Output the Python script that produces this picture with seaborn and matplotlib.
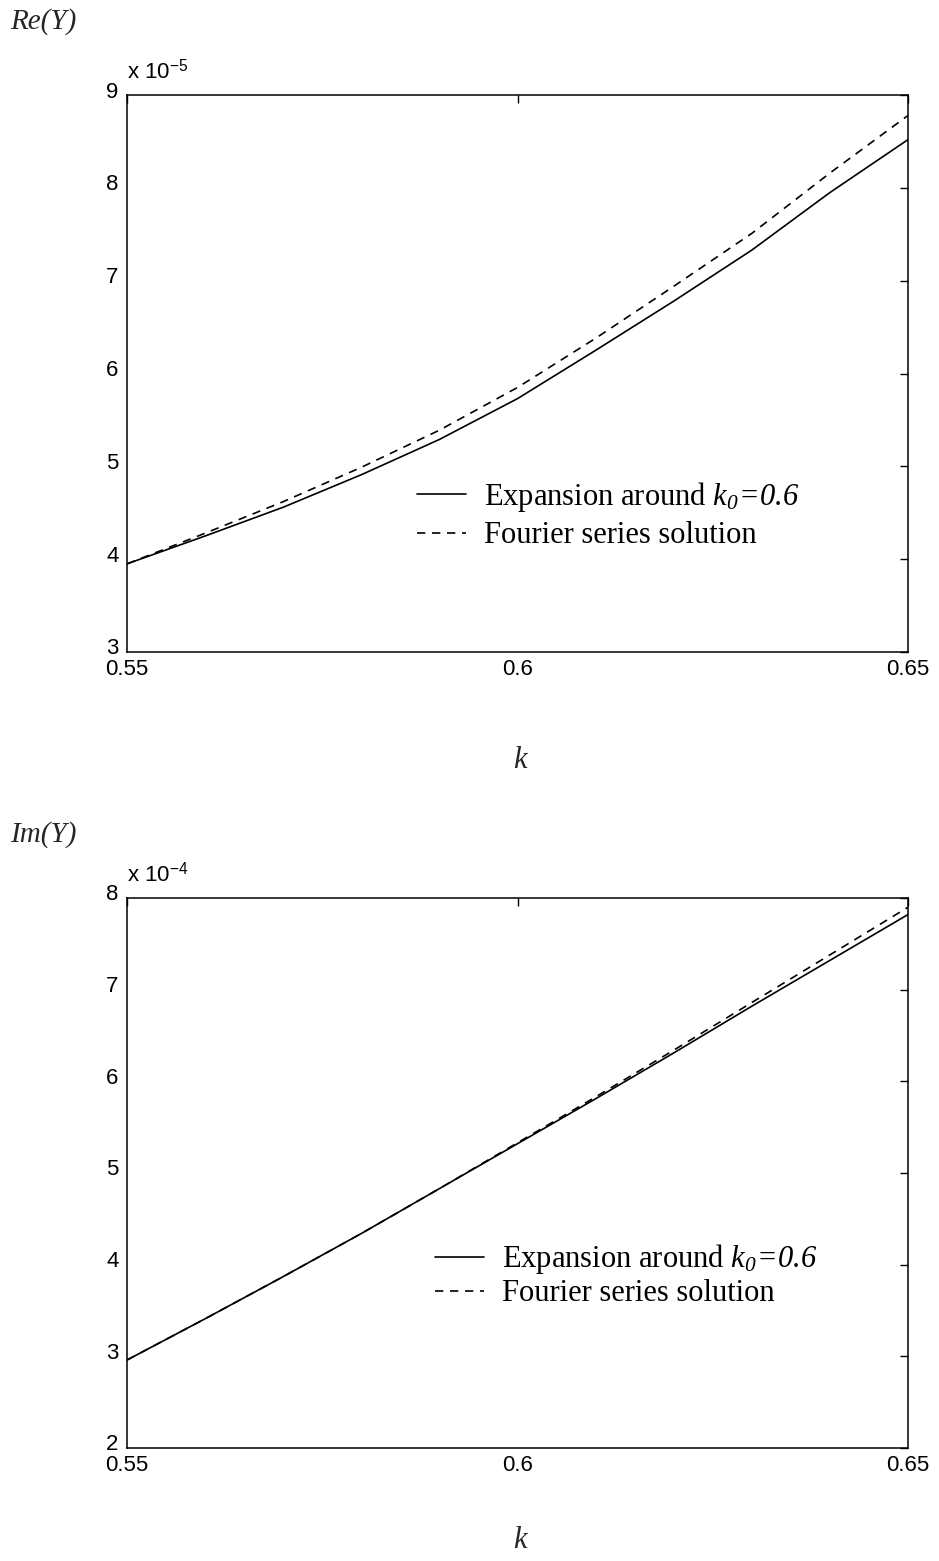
import numpy as np
import pandas as pd
import seaborn as sns
import matplotlib
matplotlib.use("Agg")
import matplotlib.pyplot as plt
from matplotlib.ticker import FuncFormatter
from matplotlib.transforms import ScaledTranslation

# wavenumber samples
k = [0.55, 0.56, 0.57, 0.58, 0.59, 0.60, 0.61, 0.62, 0.63, 0.64, 0.65]

# Re(Y), in units of 1e-5
re_expansion = [3.95, 4.25, 4.56, 4.91, 5.29, 5.73, 6.25, 6.78, 7.33, 7.95, 8.52]
re_fourier = [3.95, 4.28, 4.62, 4.99, 5.39, 5.85, 6.38, 6.94, 7.51, 8.16, 8.78]

# Im(Y), in units of 1e-4
im_expansion = [2.96, 3.41, 3.87, 4.34, 4.83, 5.32, 5.81, 6.31, 6.82, 7.32, 7.82]
im_fourier = [2.96, 3.41, 3.87, 4.34, 4.83, 5.33, 5.83, 6.34, 6.86, 7.38, 7.90]

x_ticks = [0.55, 0.6, 0.65]
x_tick_labels = ["0.55", "0.6", "0.65"]
re_ticks = [3, 4, 5, 6, 7, 8, 9]
im_ticks = [2, 3, 4, 5, 6, 7, 8]

# \mathbf is mapped to the italic serif face below, so that digits and "="
# in "k0=0.6" come out slanted as well
label_expansion = r"Expansion around $k_{\mathbf{0}}\!\mathbf{=}\!\mathbf{0.6}$"
label_fourier = "Fourier series solution"

sns.set_theme(style="white")
plt.rcParams.update({
    "font.family": ["Liberation Sans", "DejaVu Sans"],
    "mathtext.fontset": "custom",
    "mathtext.rm": "Liberation Serif",
    "mathtext.it": "Liberation Serif:italic",
    "mathtext.bf": "Liberation Serif:italic",
    "mathtext.sf": "Liberation Sans",
    "axes.edgecolor": "black",
    "axes.linewidth": 1.1,
    "lines.dashed_pattern": [5.0, 4.0],
})

serif = ["Liberation Serif", "DejaVu Serif"]

fig = plt.figure(figsize=(9.39, 15.61), dpi=100)
ax_re = fig.add_axes([0.1353, 0.5823, 0.8317, 0.3568])
ax_im = fig.add_axes([0.1353, 0.0724, 0.8317, 0.3523])


def draw_panel(ax, expansion, fourier, scale, exponent, yticks,
               legend_anchor, row_gap):
    df = pd.DataFrame({
        "k": k,
        "expansion": np.asarray(expansion) * scale,
        "fourier": np.asarray(fourier) * scale,
    })
    sns.lineplot(data=df, x="k", y="expansion", ax=ax, color="black",
                 linewidth=1.2, label=label_expansion)
    sns.lineplot(data=df, x="k", y="fourier", ax=ax, color="black",
                 linewidth=1.2, linestyle="--", label=label_fourier)

    ax.set_xlim(0.55, 0.65)
    ax.set_ylim(yticks[0] * scale, yticks[-1] * scale)
    ax.set_xticks(x_ticks)
    ax.set_xticklabels(x_tick_labels)
    ax.set_yticks([t * scale for t in yticks])
    ax.yaxis.set_major_formatter(FuncFormatter(lambda v, _: f"{v / scale:g}"))
    ax.tick_params(direction="in", length=6, width=1.0, top=True, right=True,
                   labelsize=16, colors="black")
    ax.tick_params(axis="x", pad=5)
    ax.tick_params(axis="y", pad=6)
    ax.set_xlabel("")
    ax.set_ylabel("")
    for s in ax.spines.values():
        s.set_visible(True)
        s.set_color("black")

    # y tick labels sit slightly above their ticks
    lift = ScaledTranslation(0, 4 / 72, fig.dpi_scale_trans)
    for tick in ax.yaxis.get_major_ticks():
        tick.label1.set_transform(tick.label1.get_transform() + lift)

    ax.annotate(r"x 10$^{\mathsf{%d}}$" % exponent, xy=(0, 1), xycoords="axes fraction",
                xytext=(0, 12), textcoords="offset points", ha="left",
                va="baseline", fontsize=16, color="black")

    leg = ax.legend(loc="center left", bbox_to_anchor=legend_anchor, frameon=False,
                    handlelength=1.6, handletextpad=0.6,
                    labelspacing=row_gap, borderpad=0, borderaxespad=0,
                    prop={"family": serif, "size": 22})
    for t in leg.get_texts():
        t.set_color("black")


draw_panel(ax_re, re_expansion, re_fourier, 1e-5, -5, re_ticks,
           (0.371, 0.246), 0.25)
draw_panel(ax_im, im_expansion, im_fourier, 1e-4, -4, im_ticks,
           (0.394, 0.314), 0.1)

fig.text(10 / 939, 1 - 22 / 1561, "Re(Y)", family=serif, style="italic",
         fontsize=21, ha="left", va="center")
fig.text(10 / 939, 1 - 835 / 1561, "Im(Y)", family=serif, style="italic",
         fontsize=21, ha="left", va="center")
fig.text(520 / 939, 1 - 760 / 1561, "k", family=serif, style="italic",
         fontsize=22, ha="center", va="center")
fig.text(520 / 939, 1 - 1540 / 1561, "k", family=serif, style="italic",
         fontsize=22, ha="center", va="center")

fig.savefig("out.png", dpi=100, facecolor="white")
